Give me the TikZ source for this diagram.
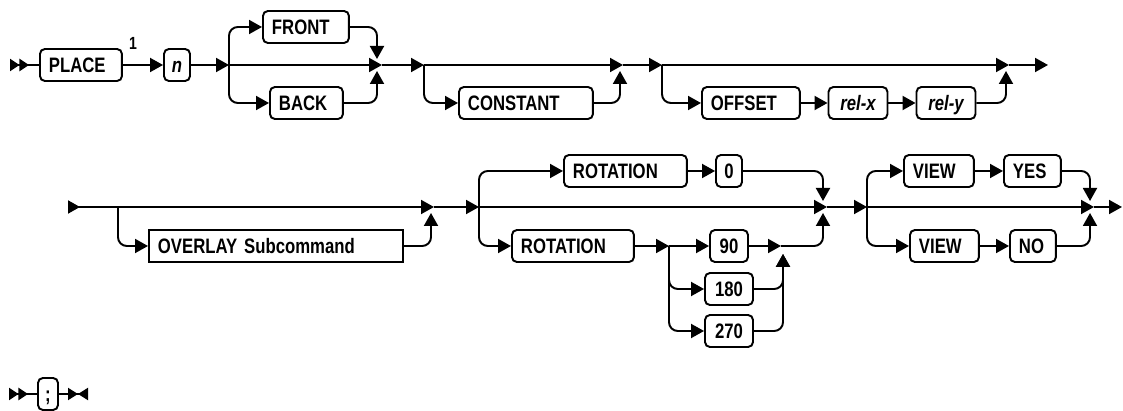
\documentclass[tikz,border=0pt]{standalone}
\usepackage{fontspec}
\setmainfont{Liberation Sans}[FakeStretch=0.8]
\usetikzlibrary{arrows.meta}

\begin{document}
\begin{tikzpicture}[x=.02cm,y=-.02cm,line width=1.1pt,
  >={Triangle[length=.26cm,width=.28cm]},
  rail/.style={->,rounded corners=5pt},
  box/.style={draw,rounded corners=2.8pt,minimum height=.64cm,
    font=\fontsize{11.9}{13}\selectfont\bfseries,text height=8.5pt,text depth=0pt},
  kw/.style={box,anchor=west,inner xsep=.18cm,text width=#1,align=left},
  kwc/.style={box,inner xsep=2pt,minimum width=#1},
  dbl/.style={{Triangle[reversed,length=.19cm,width=.24cm,sep=0pt]Triangle[reversed,length=.19cm,width=.24cm]}-},
  cont/.style={{Triangle[reversed,length=.24cm,width=.26cm]}-},
  stop/.style={-{Triangle[length=.2cm,width=.24cm,sep=0pt]Triangle[reversed,length=.2cm,width=.24cm]}}]
  \useasboundingbox (0,0) rectangle (1123,411);

  % row 1
  \node[kw=1.28cm] (place) at (39,65) {PLACE};
  \node[font=\fontsize{10}{11}\selectfont\bfseries] (fn1) at (133,43) {1};
  \node[kwc=.52cm] (n) at (177,65) {\itshape n};
  \node[kw=1.36cm] (front) at (262,27) {FRONT};
  \node[kw=1.10cm] (back) at (269,103) {BACK};
  \node[kw=2.32cm] (const) at (458,103) {CONSTANT};
  \node[kw=1.60cm] (offset) at (701,103) {OFFSET};
  \node[kwc=1.18cm] (relx) at (858,103) {\itshape rel-x};
  \node[kwc=1.18cm] (rely) at (946,103) {\itshape rel-y};

  \coordinate (st1) at (10,65);
  \coordinate (br1) at (229,65);
  \coordinate (jn1) at (382,65);
  \coordinate (jn1t) at (377,59);
  \coordinate (jn1b) at (377,71);
  \coordinate (br2) at (424,65);
  \coordinate (jn2) at (623,65);
  \coordinate (jn2b) at (620,71);
  \coordinate (br3) at (662,65);
  \coordinate (jn3) at (1009,65);
  \coordinate (jn3b) at (1006,71);
  \coordinate (end1) at (1048,65);

  \draw[dbl] (st1) -- (place.west);
  \draw[->] (place.east) -- (n.west);
  \draw[->] (n.east) -- (br1);
  \draw[rail] (br1) |- (front.west);
  \draw[rail] (front.east) -| (jn1t);
  \draw[->] (br1) -- (jn1);
  \draw[rail] (br1) |- (back.west);
  \draw[rail] (back.east) -| (jn1b);
  \draw[->] (jn1) -- (br2);
  \draw[->] (br2) -- (jn2);
  \draw[rail] (br2) |- (const.west);
  \draw[rail] (const.east) -| (jn2b);
  \draw[->] (jn2) -- (br3);
  \draw[->] (br3) -- (jn3);
  \draw[rail] (br3) |- (offset.west);
  \draw[->] (offset.east) -- (relx.west);
  \draw[->] (relx.east) -- (rely.west);
  \draw[rail] (rely.east) -| (jn3b);
  \draw[->] (jn3) -- (end1);

  % row 2
  \node[kw=4.72cm,sharp corners] (ovl) at (148,246) {OVERLAY Subcommand};
  \node[kw=2.10cm] (rot1) at (563,171) {ROTATION};
  \node[kwc=.52cm] (zero) at (729,171) {0};
  \node[kw=2.08cm] (rot2) at (511,246) {ROTATION};
  \node[kwc=.76cm] (n90) at (729,246) {90};
  \node[kwc=.96cm] (n180) at (729,289) {180};
  \node[kwc=.96cm] (n270) at (729,331) {270};
  \node[kw=1.04cm] (view1) at (903,171) {VIEW};
  \node[kw=.78cm] (yes) at (1003,171) {YES};
  \node[kw=1.02cm] (view2) at (909,246) {VIEW};
  \node[kw=.56cm] (no) at (1009,246) {NO};

  \coordinate (st2) at (68,207);
  \coordinate (br4) at (118,207);
  \coordinate (jn4) at (434,207);
  \coordinate (jn4b) at (431,213);
  \coordinate (br5) at (479,207);
  \coordinate (jn5) at (827,207);
  \coordinate (jn5t) at (823,201);
  \coordinate (jn5b) at (823,213);
  \coordinate (br6) at (669,246);
  \coordinate (jn6) at (781,246);
  \coordinate (jn6b) at (783,254);
  \coordinate (br7) at (867,207);
  \coordinate (jn7) at (1094,207);
  \coordinate (jn7t) at (1090,201);
  \coordinate (jn7b) at (1090,213);
  \coordinate (end2) at (1122,207);

  \draw[cont] (st2) -- (br4);
  \draw[->] (br4) -- (jn4);
  \draw[rail] (br4) |- (ovl.west);
  \draw[rail] (ovl.east) -| (jn4b);
  \draw[->] (jn4) -- (br5);
  \draw[rail] (br5) |- (rot1.west);
  \draw[->] (rot1.east) -- (zero.west);
  \draw[rail] (zero.east) -| (jn5t);
  \draw[->] (br5) -- (jn5);
  \draw[rail] (br5) |- (rot2.west);
  \draw[->] (rot2.east) -- (br6);
  \draw[->] (br6) -- (n90.west);
  \draw[rail] (br6) |- (n180.west);
  \draw[rail] (br6) |- (n270.west);
  \draw[->] (n90.east) -- (jn6);
  \draw[rail] (n180.east) -| (jn6b);
  \draw[rail] (n270.east) -| (jn6b);
  \draw[rail] (jn6) -| (jn5b);
  \draw[->] (jn5) -- (br7);
  \draw[rail] (br7) |- (view1.west);
  \draw[->] (view1.east) -- (yes.west);
  \draw[rail] (yes.east) -| (jn7t);
  \draw[->] (br7) -- (jn7);
  \draw[rail] (br7) |- (view2.west);
  \draw[->] (view2.east) -- (no.west);
  \draw[rail] (no.east) -| (jn7b);
  \draw[->] (jn7) -- (end2);

  % row 3
  \node[kwc=.40cm] (semi) at (48,394) {;};
  \coordinate (st3) at (9,394);
  \coordinate (end3) at (88,394);
  \draw[dbl] (st3) -- (semi.west);
  \draw[stop] (semi.east) -- (end3);
\end{tikzpicture}
\end{document}
